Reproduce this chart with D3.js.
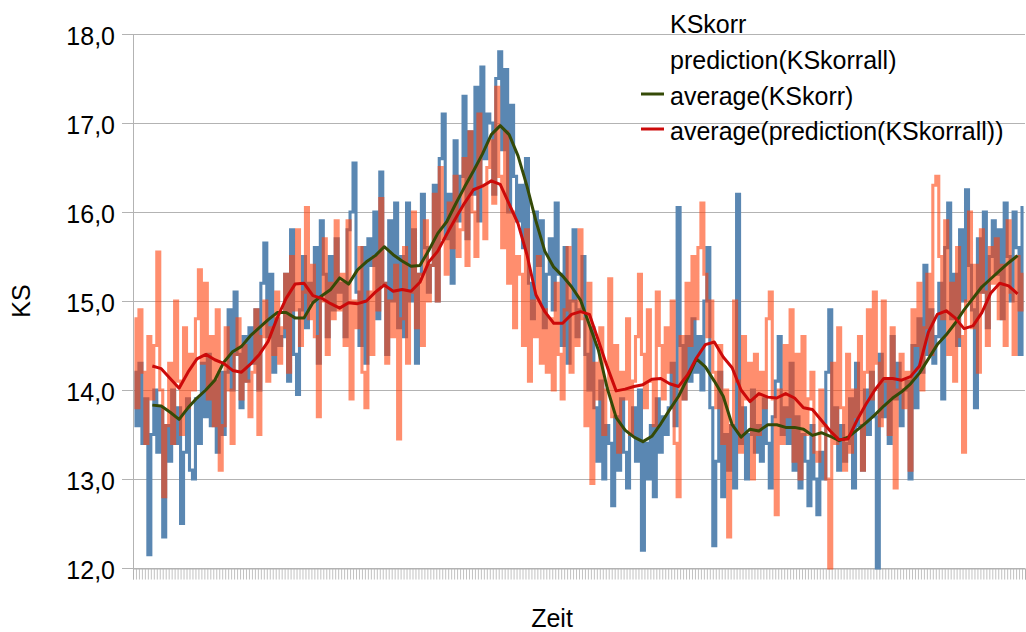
<!DOCTYPE html>
<html>
<head>
<meta charset="utf-8">
<script src="https://cdn.jsdelivr.net/npm/d3@7/dist/d3.min.js"></script>
<style>
  html, body { margin: 0; padding: 0; background: #fff; }
  svg { display: block; font-family: "Liberation Sans", Arial, sans-serif; }
</style>
</head>
<body>
<svg id="chart" width="1026" height="632"></svg>
<script>
// Measured KS values, one per sample
const ksKorr = [
  14.2, 13.6, 14.3, 13.4, 13.9, 12.15, 13.5, 14.0, 13.3, 13.8,
  12.35, 13.6, 13.2, 14.0, 13.4, 13.8, 12.5, 13.3, 13.9, 13.1,
  13.0, 13.9, 13.4, 14.3, 13.7, 14.4, 13.6, 14.1, 13.3, 14.2,
  13.5, 14.2, 14.9, 14.0, 15.1, 14.4, 13.8, 14.6, 14.1, 14.7,
  14.3, 14.9, 14.0, 15.2, 15.65, 14.6, 15.3, 14.2, 14.8, 14.5,
  14.6, 15.3, 14.1, 15.8, 14.4, 13.95, 14.9, 15.5, 14.7, 15.2,
  15.0, 15.6, 14.3, 15.9, 15.3, 14.6, 15.5, 14.9, 15.7, 15.1,
  15.2, 14.6, 15.8, 16.0, 16.55, 15.1, 14.5, 15.6, 14.3, 15.7,
  15.4, 16.0, 14.8, 16.45, 15.2, 14.4, 15.9, 15.0, 16.1, 14.7,
  15.5, 14.6, 16.1, 15.0, 15.8, 14.3, 15.3, 16.2, 15.6, 15.1,
  15.4, 16.3, 15.0, 16.6, 17.1, 15.7, 16.2, 15.2, 16.8, 15.9,
  16.4, 17.3, 15.7, 16.9, 16.2, 17.4, 15.9, 17.63, 16.6, 17.1,
  17.0, 16.2, 17.5, 17.8, 16.7, 17.6, 16.0, 17.2, 16.4, 15.9,
  16.3, 15.6, 16.6, 15.2, 14.8, 16.0, 15.4, 15.9, 14.7, 15.3,
  15.7, 14.9, 16.1, 15.3, 14.5, 15.6, 14.3, 15.0, 15.8, 14.6,
  14.9, 15.5, 14.4, 14.0, 14.7, 13.8, 13.2, 14.1, 13.0, 13.6,
  13.4, 12.7, 13.7, 13.1, 13.9, 13.3, 12.9, 13.5, 13.8, 13.2,
  14.0, 12.2, 13.4, 13.0, 13.6, 12.8, 13.9, 13.3, 13.7, 13.5,
  13.8, 14.3, 13.6, 16.05, 14.5, 13.9, 14.6, 14.1, 14.8, 14.2,
  14.6, 14.0, 15.0, 15.6, 13.8, 12.25, 13.2, 14.2, 12.8, 13.5,
  13.1, 13.6, 12.9, 16.2, 13.4, 13.8, 13.0, 13.5, 14.0, 13.3,
  13.6, 13.2, 13.9, 13.4, 12.9, 13.7, 14.1, 14.6, 13.5, 13.8,
  13.4, 14.3, 13.1, 13.7, 12.9, 13.5, 13.2, 12.7, 13.6, 13.0,
  12.6, 13.3, 13.0, 14.2, 14.9, 13.5, 13.8, 13.1, 13.6, 13.2,
  13.4, 13.9, 12.9, 14.3, 13.6, 13.1, 14.0, 13.5, 14.2, 13.7,
  12.0, 14.4, 13.7, 14.1, 13.4, 14.6, 13.9, 14.3, 13.6, 14.0,
  14.1, 13.0, 14.5, 13.8, 14.8, 14.2, 15.4, 14.4, 14.9, 14.3,
  14.6, 15.2, 13.9, 15.6, 16.1, 14.8, 15.3, 14.5, 15.8, 15.0,
  16.25, 15.4, 14.9, 13.8, 15.7, 15.1, 16.0, 14.7, 15.5, 15.9,
  15.3, 15.8, 14.8, 16.1, 15.5, 15.0, 16.0, 15.6, 14.4, 16.05
];

// Predicted KS values for the same samples
const prediction = [
  14.8, 13.8, 14.9, 14.2, 13.4, 14.6, 13.9, 14.5, 15.55, 14.0,
  12.8, 13.6, 14.3, 13.4, 15.0, 14.1, 13.5, 14.7, 13.8, 14.4,
  14.0, 14.8, 15.35, 14.3, 15.2, 13.9, 14.6, 13.6, 14.9, 13.1,
  13.6, 14.7, 14.0, 13.4, 14.4, 14.8, 13.9, 14.5, 14.1, 13.7,
  14.2, 14.9, 13.5, 14.6, 15.0, 14.1, 14.7, 14.4, 15.1, 14.3,
  14.7, 15.3, 14.2, 15.5, 14.9, 15.8, 14.5, 15.1, 16.05, 14.8,
  15.4, 14.6, 13.7, 15.0, 15.7, 14.4, 15.2, 14.8, 15.9, 14.9,
  15.3, 14.5, 15.9, 13.9, 15.0, 14.7, 15.6, 14.2, 13.8, 15.1,
  14.4, 15.5, 14.9, 16.15, 15.2, 14.3, 15.0, 14.6, 15.4, 13.45,
  14.8, 15.6, 14.3, 15.1, 16.0, 14.7, 15.3, 14.5, 15.9, 15.0,
  15.4, 16.2, 15.0, 16.5, 15.7, 15.3, 16.1, 15.6, 16.4, 15.5,
  15.8, 16.6, 15.4, 16.9, 16.0, 15.5, 17.1, 16.3, 15.7, 16.5,
  16.8, 16.1, 17.4, 16.4, 15.6, 16.9, 15.2, 16.0, 14.7, 15.5,
  15.3, 14.5, 15.8, 14.1, 15.0, 14.6, 15.5, 14.3, 14.9, 14.2,
  14.8, 14.0, 15.2, 14.4, 13.9, 14.9, 15.6, 14.2, 15.0, 14.5,
  15.8, 14.8, 13.6, 15.2, 12.95, 14.3, 13.9, 14.7, 13.5, 14.0,
  15.25, 13.7, 14.5, 13.3, 14.2, 13.9, 14.8, 13.5, 14.1, 14.6,
  15.3, 14.4, 13.8, 14.9, 14.1, 13.6, 15.1, 14.5, 13.9, 14.7,
  14.2, 15.0, 13.4, 12.8, 14.6, 13.9, 15.2, 14.5, 15.5, 14.8,
  15.6, 16.1, 15.3, 14.6, 15.0, 14.2, 13.8, 14.5, 13.4, 14.0,
  12.35, 13.6, 15.0, 14.1, 13.3, 14.6, 13.9, 14.3, 13.0, 14.4,
  13.5, 14.2, 13.8, 14.8, 15.1, 13.9, 12.6, 14.0, 13.4, 14.5,
  13.7, 14.9, 13.2, 14.4, 13.0, 14.6, 13.5, 13.9, 14.2, 13.3,
  13.2, 14.0, 13.6, 13.0, 12.0, 14.3, 13.4, 14.7, 13.8, 13.1,
  14.4, 13.3, 14.0, 13.7, 14.6, 13.1, 14.2, 14.9, 13.9, 15.1,
  14.3, 13.6, 15.0, 14.1, 13.5, 14.7, 12.9, 14.0, 14.4, 13.8,
  14.2, 13.1, 14.9, 14.5, 15.2, 14.0, 14.7, 15.3, 14.4, 16.3,
  16.4, 15.5, 14.8, 15.9, 14.4, 15.2, 14.1, 15.6, 14.6, 13.3,
  15.0, 16.0, 14.7, 15.4, 14.2, 15.8, 15.1, 14.5, 15.6, 15.2,
  15.7, 14.8, 15.4, 14.5, 15.9, 15.1, 14.4, 15.5, 14.9, 15.3
];

// Moving averages, one value every third sample starting at sample 6
const avgFirst = 6;
const avgStep = 3;
const avgKSkorr = [
  13.83, 13.82, 13.75, 13.67, 13.80, 13.91, 14.00, 14.11, 14.31, 14.43,
  14.49, 14.61, 14.70, 14.79, 14.87, 14.87, 14.81, 14.81, 14.98, 15.06,
  15.13, 15.26, 15.19, 15.35, 15.44, 15.51, 15.61, 15.52, 15.45, 15.39,
  15.40, 15.57, 15.76, 15.89, 16.09, 16.28, 16.46, 16.65, 16.87, 16.97,
  16.87, 16.63, 16.29, 15.90, 15.56, 15.38, 15.28, 15.16, 15.01, 14.73,
  14.45, 14.02, 13.69, 13.55, 13.47, 13.42, 13.48, 13.62, 13.78, 13.93,
  14.13, 14.35, 14.26, 14.10, 13.93, 13.61, 13.47, 13.56, 13.54, 13.61,
  13.61, 13.58, 13.58, 13.56, 13.49, 13.52, 13.48, 13.43, 13.47, 13.55,
  13.63, 13.72, 13.82, 13.91, 13.98, 14.07, 14.19, 14.35, 14.51, 14.62,
  14.75, 14.90, 15.03, 15.16, 15.25, 15.34, 15.43, 15.51
];
const avgPrediction = [
  14.27, 14.24, 14.13, 14.02, 14.20, 14.35, 14.40, 14.34, 14.30, 14.22,
  14.20, 14.29, 14.40, 14.55, 14.81, 15.03, 15.19, 15.20, 15.06, 15.03,
  14.97, 14.92, 14.98, 14.97, 15.00, 15.10, 15.18, 15.11, 15.13, 15.11,
  15.21, 15.44, 15.56, 15.75, 15.93, 16.10, 16.25, 16.29, 16.35, 16.31,
  16.09, 15.87, 15.52, 15.07, 14.88, 14.75, 14.75, 14.85, 14.88, 14.85,
  14.56, 14.26, 13.99, 14.01, 14.04, 14.06, 14.12, 14.13, 14.07, 14.04,
  14.17, 14.36, 14.51, 14.54, 14.37, 14.25, 14.00, 13.87, 13.96, 13.92,
  13.91, 13.96, 13.91, 13.80, 13.78, 13.66, 13.54, 13.44, 13.45, 13.66,
  13.84, 14.00, 14.13, 14.13, 14.11, 14.15, 14.27, 14.65, 14.85, 14.89,
  14.81, 14.69, 14.72, 14.87, 15.09, 15.20, 15.17, 15.08
];

const yTicks = [12, 13, 14, 15, 16, 17, 18];
const seriesNames = ["KSkorr", "prediction(KSkorrall)", "average(KSkorr)", "average(prediction(KSkorrall))"];

const svg = d3.select("#chart");
const m = { left: 133, right: 1025, top: 34, bottom: 568 };
const n = ksKorr.length;

const x = d3.scaleLinear().domain([0, n]).range([m.left, m.right]);
const y = d3.scaleLinear().domain([12, 18]).range([m.bottom, m.top]);
const grid = "#b3b3b3";

// horizontal grid lines with tick stubs
svg.append("g")
  .selectAll("line").data(yTicks).join("line")
  .attr("x1", m.left - 11).attr("x2", m.right)
  .attr("y1", d => y(d) + 0.5).attr("y2", d => y(d) + 0.5)
  .attr("stroke", grid).attr("stroke-width", 1);

// value axis line
svg.append("line")
  .attr("x1", m.left + 0.5).attr("x2", m.left + 0.5)
  .attr("y1", m.top).attr("y2", m.bottom)
  .attr("stroke", grid);

// category axis: one tick per sample
const xAxis = d3.axisBottom(x).tickValues(d3.range(0, n + 1)).tickSize(11).tickFormat("");
const gx = svg.append("g").attr("transform", `translate(0,${m.bottom + 0.5})`).call(xAxis);
gx.select(".domain").attr("stroke", grid);
gx.selectAll(".tick line").attr("stroke", grid).attr("stroke-width", 0.8);

// value tick labels
const fmt = d => d3.format(".1f")(d).replace(".", ",");
svg.append("g")
  .selectAll("text").data(yTicks).join("text")
  .attr("x", 115).attr("y", d => y(d) + 11)
  .attr("text-anchor", "end")
  .attr("font-size", 25).attr("fill", "#000")
  .text(fmt);

const mid = i => x(i + 0.5);

// raw series as dense step lines
const stepLine = d3.line().x((d, i) => mid(i)).y(d => y(d)).curve(d3.curveStep);
svg.append("path").datum(ksKorr)
  .attr("d", stepLine).attr("fill", "none")
  .attr("stroke", "#5a87b2").attr("stroke-width", 3.1)
  .attr("stroke-linejoin", "miter");
svg.append("path").datum(prediction)
  .attr("d", stepLine).attr("fill", "none")
  .attr("stroke", "#ff420e").attr("stroke-opacity", 0.6).attr("stroke-width", 3.1)
  .attr("stroke-linejoin", "miter");

// moving averages
const avgLine = d3.line().x((d, k) => mid(avgFirst + k * avgStep)).y(d => y(d)).curve(d3.curveLinear);
svg.append("path").datum(avgKSkorr)
  .attr("d", avgLine).attr("fill", "none")
  .attr("stroke", "#354a07").attr("stroke-width", 3).attr("stroke-linejoin", "round");
svg.append("path").datum(avgPrediction)
  .attr("d", avgLine).attr("fill", "none")
  .attr("stroke", "#cc0a0a").attr("stroke-width", 3).attr("stroke-linejoin", "round");

// axis titles
svg.append("text")
  .attr("x", 552).attr("y", 627).attr("text-anchor", "middle")
  .attr("font-size", 25).text("Zeit");
svg.append("text")
  .attr("transform", "translate(30,301) rotate(-90)")
  .attr("text-anchor", "middle").attr("font-size", 25).text("KS");

// legend
const legendColors = [null, null, "#354a07", "#cc0a0a"];
const legendBase = [33, 69, 105, 140];
const lg = svg.append("g");
seriesNames.forEach((name, i) => {
  if (legendColors[i]) {
    lg.append("line")
      .attr("x1", 641).attr("x2", 664)
      .attr("y1", legendBase[i] - 11).attr("y2", legendBase[i] - 11)
      .attr("stroke", legendColors[i]).attr("stroke-width", 3);
  }
  lg.append("text")
    .attr("x", 670).attr("y", legendBase[i])
    .attr("font-size", 25).attr("fill", "#000")
    .text(name);
});
</script>
</body>
</html>
